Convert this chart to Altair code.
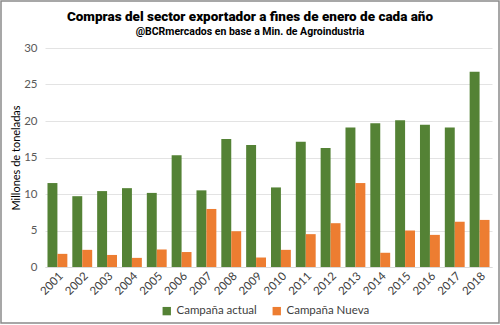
import altair as alt
import pandas as pd

years = [str(y) for y in range(2001, 2019)]
actual = [11.5, 9.7, 10.4, 10.8, 10.15, 15.3, 10.5, 17.55, 16.7, 10.9, 17.15, 16.3, 19.1, 19.7, 20.1, 19.5, 19.1, 26.75]
nueva = [1.8, 2.35, 1.65, 1.25, 2.4, 2.05, 7.95, 4.9, 1.3, 2.35, 4.5, 6.0, 11.5, 1.95, 5.0, 4.4, 6.2, 6.45]
series = ["Campaña actual", "Campaña Nueva"]
colors = ["#548235", "#ED7D31"]
title_text = "Compras del sector exportador a fines de enero de cada año"
subtitle_text = "@BCRmercados en base a Min. de Agroindustria"

rows = []
for i, y in enumerate(years):
    rows.append({"year": y, "serie": series[0], "value": actual[i]})
    rows.append({"year": y, "serie": series[1], "value": nueva[i]})
df = pd.DataFrame(rows)

W, H = 447, 219
PL, PT = 45, 48

bars = alt.Chart(df).mark_bar().encode(
    x=alt.X("year:N", sort=years, title=None,
            scale=alt.Scale(paddingInner=0.2, paddingOuter=0.1),
            axis=alt.Axis(labelAngle=-45, labelAlign="right", labelBaseline="top",
                          labelFont="Lato", labelFontSize=11.5, labelColor="#404040",
                          ticks=False, domain=True, domainColor="#d9d9d9",
                          labelPadding=3)),
    xOffset=alt.XOffset("serie:N", sort=series, scale=alt.Scale(paddingInner=0, paddingOuter=0)),
    y=alt.Y("value:Q", scale=alt.Scale(domain=[0, 30]), title="Millones de toneladas",
            axis=alt.Axis(values=[0, 5, 10, 15, 20, 25, 30], grid=True, gridColor="#e3e3e3",
                          domain=False, ticks=False, labelFont="Lato", labelFontSize=11.5,
                          labelColor="#595959", labelPadding=8, titleFont="Lato",
                          titleFontSize=11, titleFontWeight="normal", titleColor="#000000",
                          titlePadding=2)),
    color=alt.Color("serie:N", sort=series, scale=alt.Scale(domain=series, range=colors),
                    legend=alt.Legend(title=None, orient="none", direction="horizontal",
                                      legendX=116, legendY=257, symbolType="square",
                                      symbolSize=70, labelFont="Lato", labelFontSize=11.5,
                                      labelColor="#404040", columnPadding=14,
                                      symbolStrokeWidth=0)),
)

one = pd.DataFrame({"a": [0]})
border = alt.Chart(one).mark_rect(fill=None, stroke="#8a8a8a", strokeWidth=1.5).encode(
    x=alt.value(-44), x2=alt.value(W + 7), y=alt.value(-47), y2=alt.value(H + 56)
)
title = alt.Chart(one).mark_text(
    text=title_text, font="Roboto",
    fontWeight=900, fontSize=13.5, color="#000000", align="center", baseline="middle"
).encode(x=alt.value(250 - PL), y=alt.value(17 - PT))
subtitle = alt.Chart(one).mark_text(
    text=subtitle_text, font="Roboto",
    fontWeight="bold", fontSize=10.5, color="#000000", align="center", baseline="middle"
).encode(x=alt.value(250 - PL), y=alt.value(32 - PT))

chart = alt.layer(bars, border, title, subtitle).properties(
    width=W, height=H,
    autosize=alt.AutoSizeParams(type="none"),
    padding={"left": PL, "top": PT, "right": 500 - PL - W, "bottom": 325 - PT - H},
    background="white",
).configure_view(stroke=None)

chart.save("out.html", embed_options={"renderer": "svg", "actions": False})
